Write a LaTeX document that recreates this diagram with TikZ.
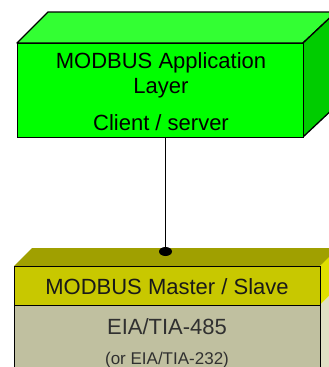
\documentclass[tikz,border=0pt]{standalone}
\usepackage{fontspec}
\setmainfont{Liberation Sans}
\usetikzlibrary{shapes.geometric}
\definecolor{gfront}{HTML}{00FF00}
\definecolor{gtop}{HTML}{33FF33}
\definecolor{gside}{HTML}{00CC00}
\definecolor{ytop}{HTML}{A0A000}
\definecolor{yhead}{HTML}{C8C800}
\definecolor{ybody}{HTML}{C0C0A0}
\definecolor{yside}{HTML}{E0E000}
\definecolor{ysidelow}{HTML}{E0E0C4}
\definecolor{txtgray}{HTML}{303030}
\tikzset{
  edge/.style={draw=black, line width=1.3pt},
  bigtxt/.style={font=\fontsize{22}{25}\selectfont, inner sep=0pt, anchor=center},
  smalltxt/.style={font=\fontsize{17}{20}\selectfont, inner sep=0pt, anchor=center},
  face/.style={draw=black, line width=1.3pt, inner sep=0pt, anchor=north west},
}
\begin{document}
\begin{tikzpicture}[x=1pt,y=-1pt]
\useasboundingbox (0,0) rectangle (329,367);
% top box (application layer)
\filldraw[fill=gtop, edge, line join=round] (17,43) -- (48,12) -- (336,12) -- (303,43) -- cycle;
\filldraw[fill=gside, edge, line join=round] (303,43) -- (336,12) -- (336,106) -- (303,137) -- cycle;
\node[face, fill=gfront, minimum width=286pt, minimum height=94pt] (app) at (17,43) {};
\node[bigtxt] (t1) at (161,63) {MODBUS Application};
\node[bigtxt] (t2) at (161,88) {Layer};
\node[bigtxt] (t3) at (161,123) {Client / server};
% bottom box
\fill[ytop] (14,266) -- (32,248) -- (345,248) -- (320,266) -- cycle;
\fill[yside] (320,266) -- (345,241) -- (345,280) -- (320,305) -- cycle;
\fill[ysidelow] (320,305) -- (345,280) -- (345,370) -- (320,370) -- cycle;
\node[face, fill=yhead, minimum width=306pt, minimum height=39pt] (ms) at (14,266) {};
\node[face, fill=ybody, minimum width=306pt, minimum height=70pt] (eia) at (14,305) {};
\node[bigtxt, text=black!90] (b1) at (167,287) {MODBUS Master / Slave};
\node[bigtxt, text=txtgray] (b2) at (167,327) {EIA/TIA-485};
\node[smalltxt, text=txtgray] (b3) at (167,360) {(or EIA/TIA-232)};
% connector
\node[ellipse, fill=black, minimum width=13pt, minimum height=9pt, inner sep=0pt] (dot) at (165.5,251.5) {};
\draw[line width=1.4pt] (dot |- app.south) -- (dot.center);
\end{tikzpicture}
\end{document}
